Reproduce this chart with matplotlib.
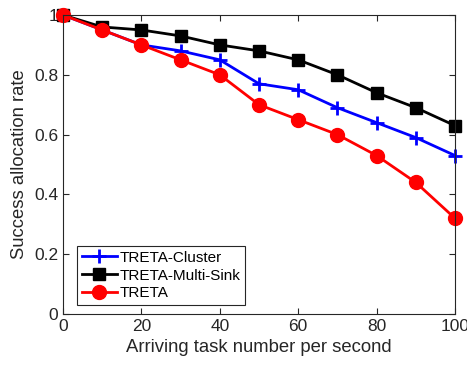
import matplotlib
matplotlib.use("Agg")
import matplotlib.pyplot as plt

plt.rcParams["font.family"] = ["Liberation Sans", "DejaVu Sans"]

x = [0, 10, 20, 30, 40, 50, 60, 70, 80, 90, 100]
cluster = [1.0, 0.95, 0.90, 0.88, 0.85, 0.77, 0.75, 0.69, 0.64, 0.59, 0.53]
multi_sink = [1.0, 0.96, 0.95, 0.93, 0.90, 0.88, 0.85, 0.80, 0.74, 0.69, 0.63]
treta = [1.0, 0.95, 0.90, 0.85, 0.80, 0.70, 0.65, 0.60, 0.53, 0.44, 0.32]

xticks = [0, 20, 40, 60, 80, 100]
yticks = [0, 0.2, 0.4, 0.6, 0.8, 1]

fig = plt.figure(figsize=(4.67, 3.67), dpi=100)
ax = fig.add_axes([63 / 467, 1 - 314 / 367, (455 - 63) / 467, (314 - 15) / 367])

ax.plot(x, cluster, color="blue", marker="+", markersize=10, markeredgewidth=2,
        linewidth=2, label="TRETA-Cluster", clip_on=False)
ax.plot(x, multi_sink, color="black", marker="s", markersize=8,
        linewidth=2, label="TRETA-Multi-Sink", clip_on=False)
ax.plot(x, treta, color="red", marker="o", markersize=10,
        linewidth=2, label="TRETA", clip_on=False)

ax.set_xlim(0, 100)
ax.set_ylim(0, 1)
ax.set_xticks(xticks)
ax.set_xticklabels([str(v) for v in xticks])
ax.set_yticks(yticks)
ax.set_yticklabels(["0", "0.2", "0.4", "0.6", "0.8", "1"])
ax.tick_params(direction="in", top=True, right=True, labelsize=12.5,
               color="#262626", labelcolor="#262626", length=4)
for s in ax.spines.values():
    s.set_color("#262626")
    s.set_linewidth(0.8)

ax.set_xlabel("Arriving task number per second", fontsize=13.3, color="#262626")
ax.set_ylabel("Success allocation rate", fontsize=13.3, color="#262626")

leg = ax.legend(loc="lower left", bbox_to_anchor=(14 / 392, 9 / 299), fontsize=11,
                fancybox=False, framealpha=1, edgecolor="#262626",
                handlelength=2.3, handletextpad=0.2, borderpad=0.3,
                labelspacing=0.25, borderaxespad=0)
leg.get_frame().set_linewidth(0.8)

fig.savefig("out.png", dpi=100)
